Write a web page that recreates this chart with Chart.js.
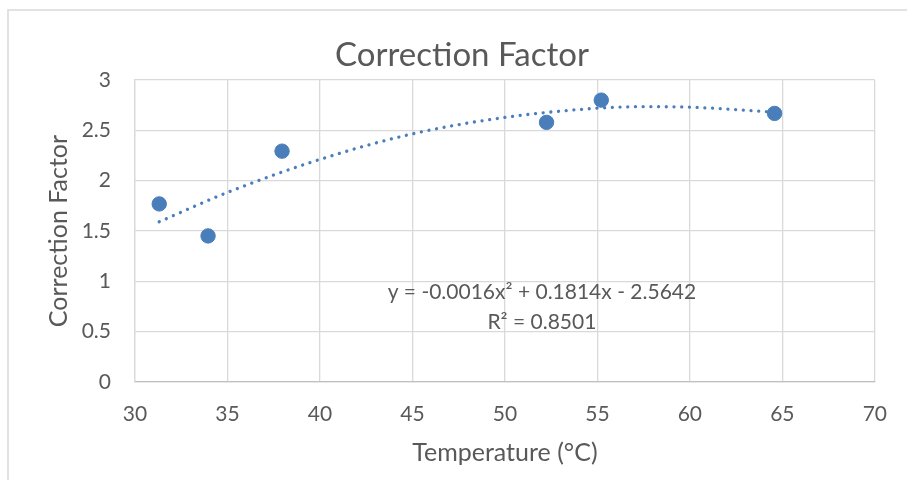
<!DOCTYPE html>
<html>
<head>
<meta charset="utf-8">
<script src="https://cdn.jsdelivr.net/npm/chart.js@4.4.1/dist/chart.umd.min.js"></script>
<style>
  html, body { margin: 0; padding: 0; background: #ffffff; }
  #wrap { position: relative; width: 907px; height: 480px; }
</style>
</head>
<body>
<div id="wrap"><canvas id="c" width="907" height="480"></canvas></div>
<script>
// ---- data ----
const chartTitle = "Correction Factor";
const xAxisTitle = "Temperature (°C)";
const yAxisTitle = "Correction Factor";
const temperatures = [31.31, 33.95, 37.95, 52.25, 55.21, 64.58];
const correctionFactors = [1.769, 1.451, 2.293, 2.579, 2.80, 2.668];
// dotted polynomial trendline
const trendX = [31.31, 35, 40, 45, 50, 55, 57.5, 60, 64.58];
const trendY = [1.592, 1.883, 2.211, 2.465, 2.628, 2.72, 2.735, 2.73, 2.68];
const equationLines = ["y = -0.0016x² + 0.1814x - 2.5642", "R² = 0.8501"];
const xTicks = [30, 35, 40, 45, 50, 55, 60, 65, 70];
const yTicks = [0, 0.5, 1, 1.5, 2, 2.5, 3];

const blue = "#4a7ebb";
const gridColor = "#d9d9d9";
const textColor = "#595959";
const fontFamily = "Lato, 'Open Sans', sans-serif";

const decor = {
  id: "decor",
  beforeDraw(chart) {
    const ctx = chart.ctx;
    ctx.save();
    ctx.fillStyle = "#ffffff";
    ctx.fillRect(0, 0, chart.width, chart.height);
    ctx.strokeStyle = "#d9d9d9";
    ctx.lineWidth = 1.5;
    ctx.beginPath();
    ctx.moveTo(8, 480);
    ctx.lineTo(8, 10);
    ctx.lineTo(907, 10);
    ctx.stroke();
    ctx.restore();
  },
  afterDraw(chart) {
    const ctx = chart.ctx;
    ctx.save();
    ctx.fillStyle = textColor;
    ctx.textAlign = "center";
    ctx.textBaseline = "middle";
    ctx.font = "33px " + fontFamily;
    ctx.fillText(chartTitle, 462, 55);
    const xs = chart.scales.x, ys = chart.scales.y;
    ctx.font = "21px " + fontFamily;
    const cx = xs.getPixelForValue(52.0);
    ctx.fillText(equationLines[0], cx, ys.getPixelForValue(0.89));
    ctx.fillText(equationLines[1], cx, ys.getPixelForValue(0.59));
    ctx.restore();
  }
};

new Chart(document.getElementById("c"), {
  type: "scatter",
  data: {
    datasets: [
      {
        label: "trend",
        type: "line",
        data: trendX.map((x, i) => ({ x: x, y: trendY[i] })),
        borderColor: blue,
        borderWidth: 3.3,
        borderDash: [0.01, 7.7],
        borderCapStyle: "round",
        pointRadius: 0,
        fill: false,
        cubicInterpolationMode: "monotone",
        order: 2
      },
      {
        label: "Correction Factor",
        data: temperatures.map((x, i) => ({ x: x, y: correctionFactors[i] })),
        backgroundColor: blue,
        borderColor: blue,
        pointRadius: 7.2,
        pointHoverRadius: 7.2,
        order: 1
      }
    ]
  },
  options: {
    responsive: false,
    animation: false,
    events: [],
    layout: { padding: { left: 0, right: 30, top: 80, bottom: 0 } },
    plugins: { legend: { display: false }, title: { display: false }, tooltip: { enabled: false } },
    scales: {
      x: {
        type: "linear",
        min: 30, max: 70,
        afterBuildTicks: s => { s.ticks = xTicks.map(v => ({ value: v })); },
        afterFit: s => { s.height = 98; },
        grid: { color: gridColor, lineWidth: 1.3, drawTicks: false },
        border: { color: "#bfbfbf", width: 1.3 },
        ticks: { color: textColor, font: { family: fontFamily, size: 21 }, padding: 20, maxRotation: 0,
                 callback: v => String(v) },
        title: { display: true, text: xAxisTitle, color: textColor, font: { family: fontFamily, size: 25 }, padding: { top: 0, bottom: 12 } }
      },
      y: {
        type: "linear",
        min: 0, max: 3,
        afterBuildTicks: s => { s.ticks = yTicks.map(v => ({ value: v })); },
        afterFit: s => { s.width = 135; },
        grid: { color: gridColor, lineWidth: 1.3, drawTicks: false },
        border: { color: gridColor, width: 1.3 },
        ticks: { color: textColor, font: { family: fontFamily, size: 21 }, padding: 24,
                 callback: v => String(v) },
        title: { display: true, text: yAxisTitle, color: textColor, font: { family: fontFamily, size: 25 }, padding: { top: 44, bottom: 0 } }
      }
    }
  },
  plugins: [decor]
});
</script>
</body>
</html>
